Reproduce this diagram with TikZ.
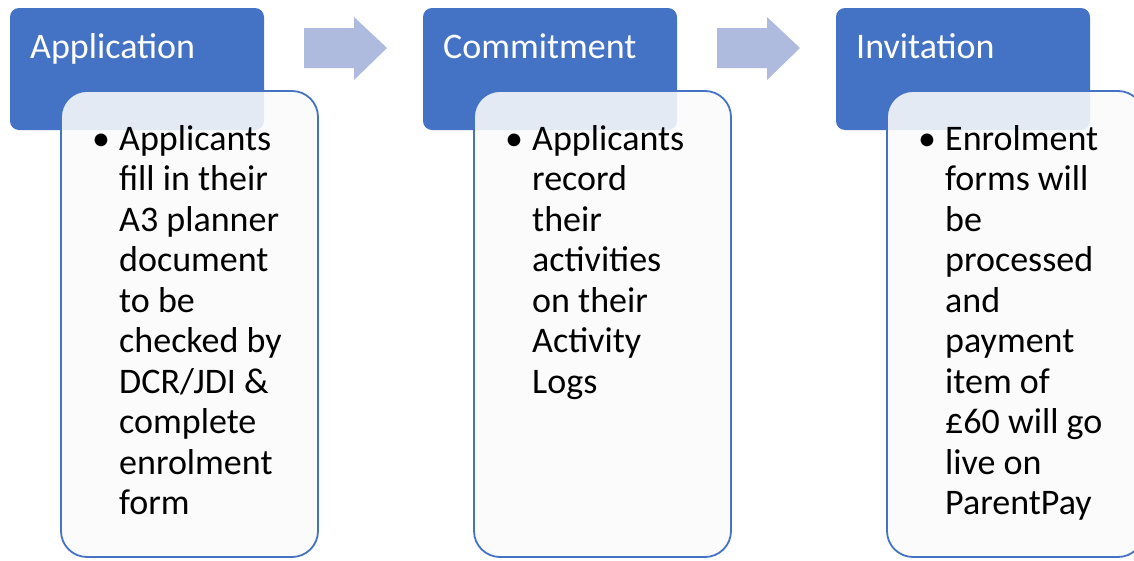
\documentclass[tikz,border=0pt]{standalone}
\usepackage{fontspec}
\setmainfont{Carlito}
\definecolor{hdrblue}{RGB}{68,114,196}
\definecolor{arrblue}{RGB}{174,187,222}
\definecolor{boxfill}{RGB}{251,251,251}
\tikzset{
  hdr/.style={fill=hdrblue, rounded corners=9pt},
  card/.style={draw=hdrblue, line width=1.8pt, fill=boxfill, fill opacity=0.88, rounded corners=26pt},
  arr/.style={fill=arrblue},
  htext/.style={anchor=base west, inner sep=0pt, text=white, font=\fontsize{36}{40.5}\selectfont},
  btext/.style={anchor=base west, inner sep=0pt, text=black, font=\fontsize{36}{40.5}\selectfont},
}
\begin{document}
\begin{tikzpicture}[x=1pt,y=-1pt]
\useasboundingbox (0,0) rectangle (1134,560);
\foreach \i/\t in {0/Application,1/Commitment,2/Invitation}{
  \pgfmathsetmacro{\dx}{413*\i}
  \begin{scope}[xshift=\dx pt]
    \fill[hdr] (10,8) rectangle (264,130);
    \node[htext] (ht\i) at (30,58) {\t};
  \end{scope}
}
\foreach \i in {0,1}{
  \pgfmathsetmacro{\dx}{413*\i}
  \begin{scope}[xshift=\dx pt]
    \fill[arr] (304,28) -- (354,28) -- (354,17) -- (387,48) -- (354,80) -- (354,68) -- (304,68) -- cycle;
  \end{scope}
}
\foreach \i in {0,1,2}{
  \pgfmathsetmacro{\dx}{413*\i}
  \begin{scope}[xshift=\dx pt]
    \filldraw[card] (61,91) rectangle (318,557);
    \node[btext] (bul\i) at (92,150) {•};
  \end{scope}
}
\node[btext] (t0) at (119,150) {\begin{tabular}[t]{@{}l@{}}Applicants\\fill in their\\A3 planner\\document\\to be\\checked by\\DCR/JDI \&\\complete\\enrolment\\form\end{tabular}};
\node[btext] (t1) at (532,150) {\begin{tabular}[t]{@{}l@{}}Applicants\\record\\their\\activities\\on their\\Activity\\Logs\end{tabular}};
\node[btext] (t2) at (945,150) {\begin{tabular}[t]{@{}l@{}}Enrolment\\forms will\\be\\processed\\and\\payment\\item of\\£60 will go\\live on\\ParentPay\end{tabular}};
\end{tikzpicture}
\end{document}
